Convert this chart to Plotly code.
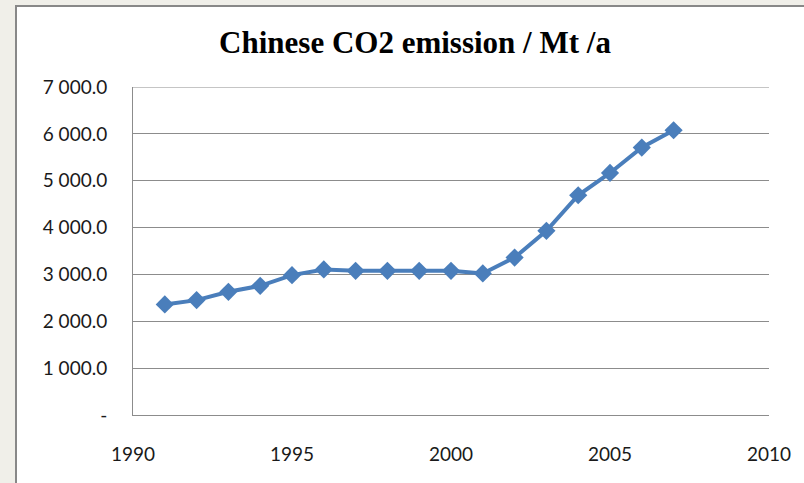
import plotly.graph_objects as go

# Annual CO2 emissions of China, in megatonnes per year
years = [1991, 1992, 1993, 1994, 1995, 1996, 1997, 1998, 1999,
         2000, 2001, 2002, 2003, 2004, 2005, 2006, 2007]
emissions = [2360, 2452, 2629, 2757, 2985, 3106, 3077, 3077, 3077,
             3077, 3021, 3360, 3930, 4690, 5166, 5708, 6077]

y_ticks = [0, 1000, 2000, 3000, 4000, 5000, 6000, 7000]
y_tick_text = ["-", "1 000.0", "2 000.0", "3 000.0", "4 000.0",
               "5 000.0", "6 000.0", "7 000.0"]
x_ticks = [1990, 1995, 2000, 2005, 2010]

W, H = 804, 483
L, R, T, B = 133, 35, 87, 68
pw, ph = W - L - R, H - T - B


def px_x(px):
    return (px - L) / pw


def px_y(py):
    return (H - B - py) / ph


fig = go.Figure()
fig.add_trace(go.Scatter(
    x=years, y=emissions, mode="lines+markers",
    line=dict(color="#4a7ebb", width=4),
    marker=dict(symbol="diamond", size=14, color="#4a7ebb"),
    showlegend=False,
))

# white chart box with a grey frame
fig.add_shape(type="rect", xref="paper", yref="paper",
              x0=px_x(16), x1=px_x(830), y0=px_y(500), y1=px_y(6),
              fillcolor="white", line=dict(color="#888888", width=2),
              layer="below")

# top gridline at the end of the value range
fig.add_shape(type="line", xref="paper", yref="y",
              x0=0, x1=1, y0=y_ticks[-1], y1=y_ticks[-1],
              line=dict(color="#8c8c8c", width=1), layer="below")

fig.update_layout(
    width=W, height=H,
    margin=dict(l=L, r=R, t=T, b=B),
    paper_bgcolor="#f0efe9",
    plot_bgcolor="rgba(0,0,0,0)",
    title=dict(text="<b>Chinese CO2 emission / Mt /a</b>",
               font=dict(family="Liberation Serif", size=31, color="#000000"),
               x=px_x(415), xref="paper", xanchor="center",
               y=1 - 42 / H, yanchor="middle"),
    font=dict(family="Lato", size=19, color="#1a1a1a"),
    xaxis=dict(range=[1990, 2010], tickvals=x_ticks, showgrid=False,
               zeroline=False, ticks="", ticklabelstandoff=22,
               showline=True, linecolor="#8c8c8c", linewidth=1),
    yaxis=dict(range=[0, 7000], tickvals=y_ticks, ticktext=y_tick_text,
               showgrid=True, gridcolor="#8c8c8c", gridwidth=1,
               zeroline=False, ticks="", ticklabelstandoff=21,
               showline=True, linecolor="#8c8c8c", linewidth=1),
)

fig.write_html("out.html")
